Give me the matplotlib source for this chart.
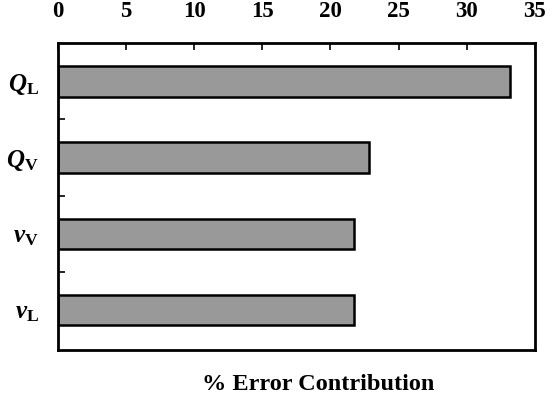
import matplotlib
matplotlib.use('Agg')
import matplotlib.pyplot as plt

# data (top to bottom)
labels = [r'$Q_\mathrm{L}$', r'$Q_\mathrm{V}$', r'$\nu_\mathrm{V}$', r'$\nu_\mathrm{L}$']
values = [33.2, 22.8, 21.7, 21.7]
xticks = [0, 5, 10, 15, 20, 25, 30, 35]

plt.rcParams.update({
    'font.family': ['Liberation Serif', 'DejaVu Serif'],
    'mathtext.fontset': 'custom',
    'mathtext.rm': 'Liberation Serif:bold',
    'mathtext.it': 'Liberation Serif:italic:bold',
    'mathtext.bf': 'Liberation Serif:bold',
})

fig = plt.figure(figsize=(5.53, 3.99), dpi=100)
ax = fig.add_axes([0.105, 0.123, 0.862, 0.769])

pos = list(range(len(values)))
ax.barh(pos, values, height=0.4, color='#999999', edgecolor='black', linewidth=1.8)

ax.set_xlim(0, 35)
ax.set_ylim(3.52, -0.5)
ax.xaxis.tick_top()
ax.set_xticks(xticks)
ax.set_xticklabels([str(t) for t in xticks], fontsize=16.5, fontweight='bold')
ax.tick_params(axis='x', direction='in', length=5, width=1.2, pad=15)

ax.set_yticks(pos)
ax.set_yticklabels(labels, fontsize=18)
ax.tick_params(axis='y', which='major', length=0, pad=14)
ax.set_yticks([0.5, 1.5, 2.5], minor=True)
ax.tick_params(axis='y', which='minor', direction='in', length=5, width=1.2)

for s in ax.spines.values():
    s.set_linewidth(2)

fig.text(318 / 553, 1 - 385 / 399, '% Error Contribution', ha='center', va='center',
         fontsize=17.5, fontweight='bold')

plt.savefig('out.png', dpi=100)
plt.close()
